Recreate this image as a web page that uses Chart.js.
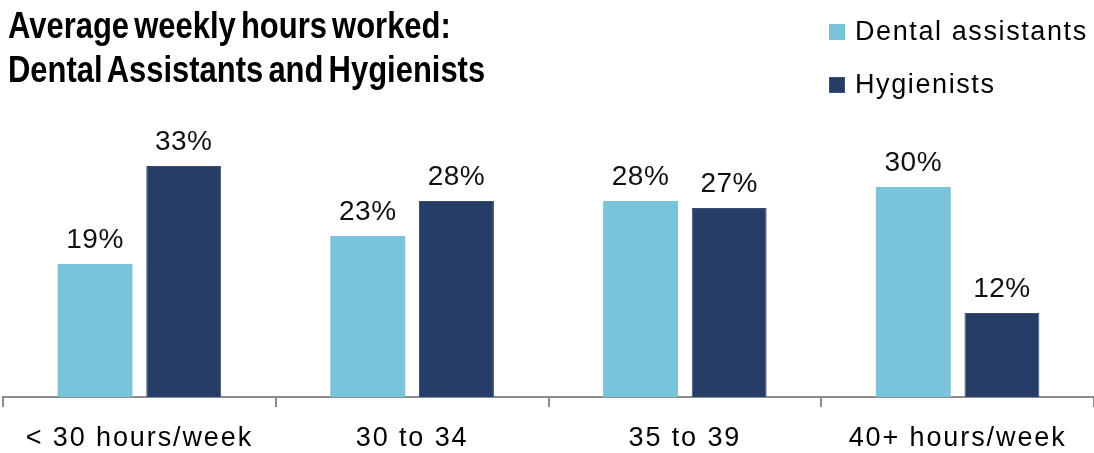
<!DOCTYPE html>
<html>
<head>
<meta charset="utf-8">
<script src="https://cdn.jsdelivr.net/npm/chart.js@4.4.1/dist/chart.umd.min.js"></script>
<style>
  html, body { margin: 0; padding: 0; background: #fff; }
  #wrap { position: relative; width: 1094px; height: 453px; overflow: hidden; }
  #chart { position: absolute; left: 0; top: 0; }
  #titre {
    position: absolute; left: 8px; top: 4px;
    font: bold 36px "Liberation Sans", sans-serif;
    line-height: 44px; word-spacing: -4px; color: #000;
    transform: scaleX(0.86); transform-origin: left top; white-space: nowrap;
  }
  #legende {
    position: absolute; left: 829px; top: 18px;
    font: 27px "Liberation Sans", sans-serif; letter-spacing: 1.6px; color: #000;
  }
  .item { display: flex; align-items: center; height: 27px; margin-bottom: 26px; }
  .carre { width: 16px; height: 16px; margin-right: 10px; box-sizing: border-box; }
</style>
</head>
<body>
<div id="wrap">
  <canvas id="chart" width="1094" height="453"></canvas>
  <div id="titre">Average weekly hours worked:<br>Dental Assistants and Hygienists</div>
  <div id="legende"></div>
</div>
<script>
// === Données ===
const categories  = ['< 30 hours/week', '30 to 34', '35 to 39', '40+ hours/week'];
const assistants  = [19, 23, 28, 30];
const hygienistes = [33, 28, 27, 12];
const nomsSeries  = ['Dental assistants', 'Hygienists'];
const couleurs    = ['#7AC4DB', '#253D67'];

// Étiquettes de valeur au-dessus des barres (pas de plugin datalabels dispo)
const etiquettes = {
    id: 'etiquettes',
    afterDatasetsDraw(chart) {
        const ctx = chart.ctx;
        ctx.save();
        ctx.font = '28px "Liberation Sans", sans-serif';
        ctx.letterSpacing = '0.5px';
        ctx.fillStyle = '#111';
        ctx.textAlign = 'center';
        ctx.textBaseline = 'alphabetic';
        chart.data.datasets.forEach((ds, i) => {
            chart.getDatasetMeta(i).data.forEach((bar, j) => {
                ctx.fillText(ds.data[j] + '%', bar.x, bar.y - 16);
            });
        });
        ctx.restore();
    }
};

// Espacement des lettres pour les libellés de l'axe X
const espacement = {
    id: 'espacement',
    beforeDraw(chart) { chart.ctx.letterSpacing = '1.9px'; }
};

new Chart(document.getElementById('chart'), {
    type: 'bar',
    data: {
        labels: categories,
        datasets: [
            { label: nomsSeries[0], data: assistants, backgroundColor: couleurs[0],
              borderColor: couleurs[0], borderWidth: 0,
              categoryPercentage: 0.65, barPercentage: 0.845 },
            { label: nomsSeries[1], data: hygienistes, backgroundColor: couleurs[1],
              borderColor: '#3a4f75', borderWidth: 1,
              categoryPercentage: 0.65, barPercentage: 0.845 }
        ]
    },
    options: {
        responsive: false,
        animation: false,
        layout: { padding: { left: 3, right: 0, top: 152, bottom: 0 } },
        plugins: {
            legend: { display: false },
            title: { display: false },
            tooltip: { enabled: false }
        },
        scales: {
            x: {
                // hauteur fixe de l'axe pour placer la ligne de base à y=397
                afterFit(scale) { scale.height = 56; },
                grid: { offset: true, drawOnChartArea: false, tickLength: 10,
                        color: '#8c8c8c', lineWidth: 2 },
                border: { display: true, color: '#8c8c8c', width: 2 },
                ticks: { color: '#000', padding: 15,
                         font: { family: 'Liberation Sans', size: 27 } }
            },
            y: { display: false, min: 0, max: 35 }
        }
    },
    plugins: [etiquettes, espacement]
});

// Légende HTML construite à partir des séries
const legende = document.getElementById('legende');
nomsSeries.forEach((nom, i) => {
    const item = document.createElement('div');
    item.className = 'item';
    const carre = document.createElement('span');
    carre.className = 'carre';
    carre.style.background = couleurs[i];
    if (i === 1) carre.style.border = '1px solid #3a4f75';
    item.appendChild(carre);
    item.appendChild(document.createTextNode(nom));
    legende.appendChild(item);
});
</script>
</body>
</html>
